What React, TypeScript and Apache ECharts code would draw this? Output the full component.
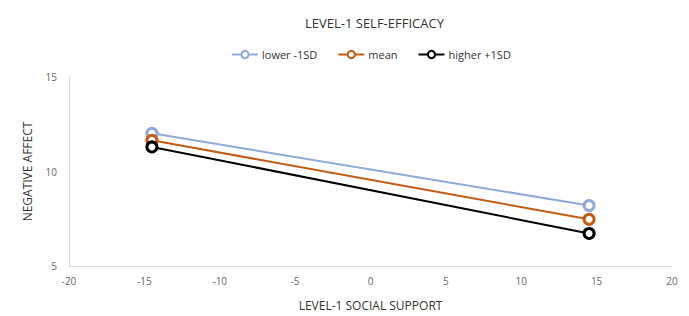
import React, { useEffect, useRef } from "react";
import * as echarts from "echarts";

const xValues = [-14.5, 14.5];
const lowerSD = [12.02, 8.2];
const meanVals = [11.65, 7.47];
const higherSD = [11.3, 6.72];
const seriesNames = ["lower -1SD", "mean", "higher +1SD"];
const colors = ["#8eaadb", "#c55a11", "#000000"];

export default function App() {
  const ref = useRef<HTMLDivElement>(null);
  useEffect(() => {
    if (!ref.current) return;
    const chart = echarts.init(ref.current, undefined, { renderer: "svg" });
    const font = "'Open Sans', 'Noto Sans', sans-serif";
    const all = [lowerSD, meanVals, higherSD];
    chart.setOption({
      animation: false,
      textStyle: { fontFamily: font },
      title: {
        text: "LEVEL-1 SELF-EFFICACY",
        left: 300,
        top: 11,
        textStyle: { fontSize: 13, fontWeight: "normal", color: "#333", fontFamily: font },
      },
      legend: {
        top: 44,
        left: 226,
        itemGap: 20,
        itemWidth: 26,
        itemHeight: 9,
        textStyle: { fontSize: 11, color: "#333", fontFamily: font, padding: [0, 0, 0, -1] },
        data: seriesNames,
      },
      grid: { left: 69, right: 17, top: 77, bottom: 48, containLabel: false },
      xAxis: {
        type: "value",
        min: -20,
        max: 20,
        interval: 5,
        name: "LEVEL-1 SOCIAL SUPPORT",
        nameLocation: "middle",
        nameGap: 33,
        nameTextStyle: { fontSize: 12, color: "#333", fontFamily: font },
        axisLine: { show: true, onZero: false, lineStyle: { color: "#d9d9d9", width: 1 } },
        axisTick: { show: false },
        splitLine: { show: false },
        axisLabel: { fontSize: 10, color: "#666", margin: 10, fontFamily: font },
      },
      yAxis: {
        type: "value",
        min: 5,
        max: 15,
        interval: 5,
        name: "NEGATIVE AFFECT",
        nameLocation: "middle",
        nameGap: 36,
        nameTextStyle: { fontSize: 12, color: "#333", fontFamily: font },
        axisLine: { show: true, onZero: false, lineStyle: { color: "#d9d9d9", width: 1 } },
        axisTick: { show: false },
        splitLine: { show: false },
        axisLabel: { fontSize: 10, color: "#666", margin: 12, fontFamily: font },
      },
      series: seriesNames.map((name, i) => ({
        name,
        type: "line",
        data: xValues.map((x, j) => [x, all[i][j]]),
        symbol: "circle",
        symbolSize: 10,
        showSymbol: true,
        lineStyle: { color: colors[i], width: 2 },
        itemStyle: { color: "#ffffff", borderColor: colors[i], borderWidth: 3 },
      })),
    });
    return () => chart.dispose();
  }, []);
  return <div ref={ref} style={{ width: 689, height: 316, position: "absolute", left: 0, top: 0 }} />;
}
